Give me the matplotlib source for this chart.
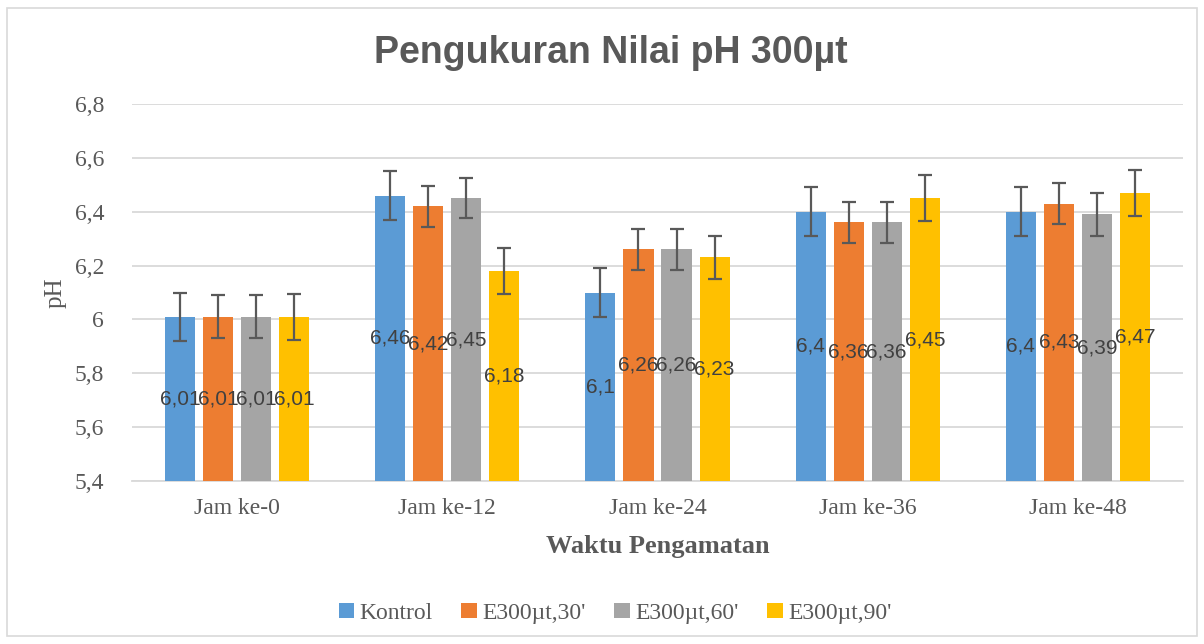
import numpy as np
import matplotlib.pyplot as plt
from matplotlib.patches import Rectangle

# data
categories = ['Jam ke-0', 'Jam ke-12', 'Jam ke-24', 'Jam ke-36', 'Jam ke-48']
series = ['Kontrol', "E300µt,30'", "E300µt,60'", "E300µt,90'"]
kontrol = [6.01, 6.46, 6.10, 6.40, 6.40]
e30 = [6.01, 6.42, 6.26, 6.36, 6.43]
e60 = [6.01, 6.45, 6.26, 6.36, 6.39]
e90 = [6.01, 6.18, 6.23, 6.45, 6.47]
err_kontrol = [0.09, 0.09, 0.09, 0.09, 0.09]
err_e30 = [0.08, 0.075, 0.075, 0.075, 0.075]
err_e60 = [0.08, 0.075, 0.075, 0.075, 0.08]
err_e90 = [0.085, 0.085, 0.08, 0.085, 0.085]

values = [kontrol, e30, e60, e90]
errors = [err_kontrol, err_e30, err_e60, err_e90]
colors = ['#5B9BD5', '#ED7D31', '#A5A5A5', '#FFC000']
ymin = 5.4

fig = plt.figure(figsize=(12.04, 6.44), dpi=100)
ax = fig.add_axes([0.1096, 0.2531, 0.8730, 0.5854])

x = np.arange(len(categories))
width = 0.143
step = 0.181
for i in range(4):
    pos = x + (i - 1.5) * step
    ax.bar(pos, np.array(values[i]) - ymin, width, bottom=ymin, color=colors[i],
           label=series[i], zorder=3)
    ax.errorbar(pos, values[i], yerr=errors[i], fmt='none', ecolor='#595959',
                elinewidth=1.6, capsize=5, capthick=1.6, zorder=4)
    for p, v in zip(pos, values[i]):
        ax.text(p, (ymin + v) / 2, ('%g' % v).replace('.', ','), ha='center',
                va='center', fontsize=15, color='#404040',
                family='Liberation Sans', zorder=5)

ax.set_ylim(5.4, 6.8)
ax.set_xlim(-0.5, len(categories) - 0.5)
yt = np.arange(5.4, 6.81, 0.2)
ax.set_yticks(yt)
ax.set_yticklabels([('%g' % round(t, 1)).replace('.', ',') for t in yt])
ax.set_xticks(x)
ax.set_xticklabels(categories)
ax.tick_params(axis='y', length=0, labelsize=17, labelcolor='#595959', pad=20)
ax.tick_params(axis='x', length=0, labelsize=17, labelcolor='#595959', pad=12)
for lab in ax.get_xticklabels() + ax.get_yticklabels():
    lab.set_family('Liberation Serif')
ax.grid(axis='y', color='#d9d9d9', linewidth=1.3, zorder=0)
for s in ['top', 'right', 'left']:
    ax.spines[s].set_visible(False)
ax.spines['bottom'].set_color('#d9d9d9')
ax.spines['bottom'].set_linewidth(1.3)

ax.set_ylabel('pH', fontsize=18, color='#595959', family='Liberation Serif', labelpad=6)
ax.set_xlabel('Waktu Pengamatan', fontsize=19, fontweight='bold', color='#595959',
              family='Liberation Serif', labelpad=12)
fig.text(0.507, 0.918, 'Pengukuran Nilai pH 300µt', ha='center', va='center',
         fontsize=27, fontweight='bold', color='#595959', family='Liberation Sans')

leg = fig.legend(loc='center', bbox_to_anchor=(0.511, 0.048), ncol=4, frameon=False,
                 prop={'family': 'Liberation Serif', 'size': 17},
                 handlelength=0.65, handleheight=0.65, handletextpad=0.25, columnspacing=1.2)
for t in leg.get_texts():
    t.set_color('#595959')

fig.patches.append(Rectangle((0.006, 0.012), 0.988, 0.976, transform=fig.transFigure,
                             fill=False, edgecolor='#d9d9d9', linewidth=1.2))

fig.savefig('out.png', dpi=100)
